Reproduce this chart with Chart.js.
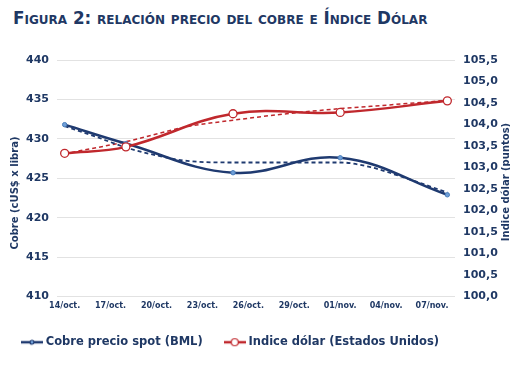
<!DOCTYPE html>
<html><head><meta charset="utf-8">
<script src="https://cdn.jsdelivr.net/npm/chart.js@4"></script>
<style>
html,body{margin:0;padding:0;background:#fff;}
#wrap{position:relative;width:510px;height:382px;overflow:hidden;}
#title{position:absolute;left:13px;top:8px;font:bold 16.8px "DejaVu Sans";font-variant:small-caps;color:#1F3864;white-space:nowrap;}
canvas{position:absolute;left:0;top:0;}
</style></head><body>
<div id="wrap"><div id="title">Figura 2: relación precio del cobre e Índice Dólar</div><canvas id="c" width="510" height="382"></canvas></div>
<script>
const tickDays = [0,3,6,9,12,15,18,21,24];
const tickLabels = ['14/oct.','17/oct.','20/oct.','23/oct.','26/oct.','29/oct.','01/nov.','04/nov.','07/nov.'];
const obsDays = [0,4,11,18,25];
const copper = [431.8, 429.4, 425.7, 427.6, 422.9];
const dollar = [103.33, 103.48, 104.25, 104.28, 104.55];
const copperTrendDays = [0,2,4,6,8,11,14,18,20,22,25];
const copperTrend = [431.6,430.3,428.9,427.9,427.2,427.0,427.0,427.0,426.4,425.2,423.2];
const dollarTrendDays = [0,4,8,11,15,18,21,25];
const dollarTrend = [103.32,103.60,103.95,104.10,104.27,104.37,104.45,104.56];
const seriesNames = ['Cobre precio spot (BML)','Indice dólar (Estados Unidos)'];
const leftTitle = 'Cobre (cUS$ x libra)';
const rightTitle = 'Indice dólar (puntos)';

const NAVY = '#1F3864';
const BLUE = '#1F3A70';
const RED = '#C0282D';
const FONT = '"DejaVu Sans", Verdana, sans-serif';

function pts(xs, ys){ return xs.map((x,i)=>({x:x, y:ys[i]})); }

function legendIcon(color, fill, r){
  const c = document.createElement('canvas'); c.width = 22; c.height = 10;
  const g = c.getContext('2d');
  g.strokeStyle = color; g.lineWidth = 2.5;
  g.beginPath(); g.moveTo(0,5); g.lineTo(22,5); g.stroke();
  g.beginPath(); g.arc(11,5,r,0,Math.PI*2); g.fillStyle = fill; g.fill();
  g.lineWidth = 1.2; g.strokeStyle = color; g.stroke();
  return c;
}
const iconBlue = legendIcon(BLUE, '#6F9FD8', 2);
const iconRed = legendIcon(RED, '#ffffff', 3.5);

const axisTitles = {
  id:'axisTitles',
  afterDraw(chart){
    const ctx = chart.ctx; ctx.save();
    ctx.font = 'bold 10px ' + FONT; ctx.fillStyle = NAVY;
    ctx.textAlign = 'center'; ctx.textBaseline = 'middle';
    ctx.save(); ctx.translate(15,193); ctx.rotate(-Math.PI/2); ctx.fillText(leftTitle,0,0); ctx.restore();
    ctx.save(); ctx.translate(506,182); ctx.rotate(-Math.PI/2); ctx.fillText(rightTitle,0,0); ctx.restore();
    ctx.restore();
  }
};

new Chart(document.getElementById('c'), {
  type:'line',
  data:{ datasets:[
    { label:seriesNames[0], data:pts(obsDays,copper), yAxisID:'y', borderColor:BLUE, borderWidth:2.5,
      pointRadius:2.2, pointBackgroundColor:'#6F9FD8', pointBorderColor:'#4A7EBB', pointBorderWidth:1,
      tension:0.4, order:1 },
    { label:seriesNames[1], data:pts(obsDays,dollar), yAxisID:'y1', borderColor:RED, borderWidth:2.5,
      pointRadius:4, pointBackgroundColor:'#fff', pointBorderColor:RED, pointBorderWidth:1.3,
      tension:0.4, order:0 },
    { label:'trend1', data:pts(copperTrendDays,copperTrend), yAxisID:'y', borderColor:BLUE, borderWidth:1.8,
      borderDash:[4,3], pointRadius:0, cubicInterpolationMode:'monotone', order:3 },
    { label:'trend2', data:pts(dollarTrendDays,dollarTrend), yAxisID:'y1', borderColor:RED, borderWidth:1.5,
      borderDash:[4,3], pointRadius:0, cubicInterpolationMode:'monotone', order:3 }
  ]},
  options:{
    responsive:false, animation:false, devicePixelRatio:1,
    layout:{ padding:{ top:60, left:0, right:0, bottom:24 } },
    plugins:{
      tooltip:{enabled:false},
      legend:{ position:'bottom', align:'start',
        labels:{ usePointStyle:true, pointStyleWidth:16, padding:24, color:NAVY,
          font:{ family:FONT, size:11.5, weight:'bold' },
          generateLabels:(chart)=> [0,1].map(i=>({ text:seriesNames[i], pointStyle: i===0?iconBlue:iconRed,
            fillStyle:'transparent', strokeStyle:'transparent', lineWidth:0, datasetIndex:i, fontColor:NAVY, hidden:false }))
        } }
    },
    scales:{
      x:{ type:'linear', min:-0.5, max:25.5,
        afterBuildTicks:(s)=>{ s.ticks = tickDays.map(v=>({value:v})); },
        afterFit:(s)=>{ s.height = 16; },
        grid:{ display:false, drawTicks:false }, border:{ display:false },
        ticks:{ autoSkip:false, maxRotation:0, padding:5, color:NAVY, font:{ family:FONT, size:8, weight:'bold' },
          callback:(v)=>{ const i = tickDays.indexOf(v); return i>=0 ? tickLabels[i] : ''; } } },
      y:{ position:'left', min:410, max:440,
        afterFit:(s)=>{ s.width = 57; },
        grid:{ color:'#E2E2E2', lineWidth:1, drawTicks:false }, border:{ display:false },
        ticks:{ stepSize:5, padding:8, color:NAVY, font:{ family:FONT, size:11, weight:'bold' } } },
      y1:{ position:'right', min:100, max:105.5,
        afterFit:(s)=>{ s.width = 55; },
        grid:{ display:false, drawTicks:false }, border:{ display:false },
        ticks:{ stepSize:0.5, padding:8, color:NAVY, font:{ family:FONT, size:11, weight:'bold' },
          callback:(v)=> v.toFixed(1).replace('.',',') } }
    }
  },
  plugins:[axisTitles]
});
</script>
</body></html>
